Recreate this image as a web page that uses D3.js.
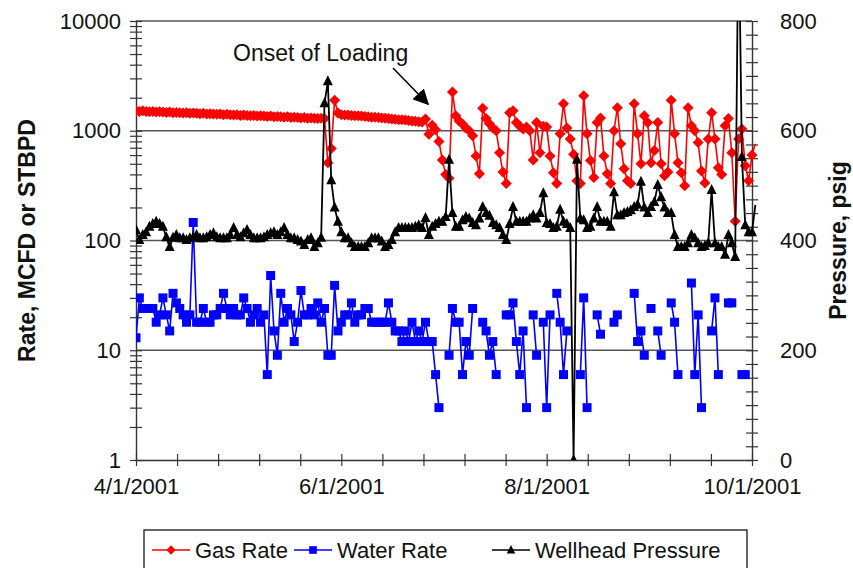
<!DOCTYPE html>
<html>
<head>
<meta charset="utf-8">
<script src="https://cdn.jsdelivr.net/npm/d3@7/dist/d3.min.js"></script>
<style>
  body { margin: 0; background: #fff; }
  text { font-family: "Liberation Sans", Arial, sans-serif; fill: #111; }
</style>
</head>
<body>
<svg id="chart" width="853" height="568"></svg>
<script>
// Daily well data, one entry per day starting 4/1/2001
const startDate = "2001-04-01";
const endDate = "2001-10-01";

// Gas rate, MCFD
const gasRate = [
  1510,1500,1520,1500,1490,1500,1480,1490,1480,1470,
  1480,1460,1470,1460,1450,1460,1440,1450,1440,1430,
  1440,1420,1430,1420,1410,1420,1400,1410,1400,1390,
  1400,1380,1390,1380,1370,1380,1360,1370,1360,1350,
  1360,1340,1350,1340,1330,1340,1320,1330,1320,1310,
  1320,1300,1310,1300,1290,1300,1290,510,690,1900,
  1450,1400,1390,1390,1380,1370,1370,1360,1350,1340,
  1330,1330,1320,1310,1300,1290,1280,1270,1260,1260,
  1250,1240,1230,1220,1210,1200,1280,930,1120,1020,
  800,540,400,370,2250,1370,1230,1150,1060,1000,
  900,590,405,1600,1290,1160,1060,1000,630,420,
  330,1460,1520,1190,1100,1040,1080,1000,540,1190,
  630,1100,1080,590,415,330,940,1760,1060,840,
  610,350,330,2080,940,535,375,1190,1310,590,
  405,330,1000,1620,760,450,350,330,1760,940,
  500,1370,1190,510,660,1190,500,390,420,1900,
  940,510,415,315,1620,1110,1000,780,430,335,
  840,1460,840,460,400,1110,1290,630,150,840,
  1040,480,350,600,760
];

// Water rate, STBPD (null = no reading that day)
const waterRate = [
  13,30,24,24,24,24,18,21,30,21,
  15,33,27,24,21,18,21,146,18,18,
  24,18,18,21,21,24,33,24,21,24,
  21,21,30,24,18,21,24,18,21,6,
  48,15,9,33,18,24,21,12,18,35,
  21,21,24,21,27,18,24,9,9,39,
  15,18,21,21,27,18,21,21,24,24,
  18,18,18,18,18,27,18,15,15,12,
  15,12,18,12,15,12,18,12,12,6,
  3,null,null,9,24,18,18,6,12,9,
  24,null,null,18,15,9,12,6,null,null,
  21,21,27,12,6,15,3,null,21,9,
  null,18,3,21,null,33,18,6,15,null,
  null,null,6,30,3,null,null,21,14,null,
  null,null,18,21,null,null,null,null,33,12,
  15,9,null,24,null,15,9,null,null,27,
  18,6,null,null,null,41,6,21,3,null,
  null,15,30,6,null,null,27,27,null,null,
  6,6,null,null,null
];

// Wellhead pressure, psig
const wellheadPressure = [
  419,401,410,415,425,430,434,430,425,406,
  388,405,410,404,404,401,404,406,410,404,
  404,406,410,413,406,404,404,404,410,423,
  410,406,413,419,410,404,404,404,406,410,
  413,415,410,415,423,410,404,404,401,398,
  392,401,404,388,395,405,650,690,510,460,
  434,415,404,404,395,388,388,388,388,395,
  404,404,404,398,388,392,401,415,423,423,
  423,423,423,425,428,423,441,410,425,430,
  434,434,443,547,450,425,425,437,443,440,
  432,428,440,461,450,445,432,428,423,410,
  401,430,461,434,434,434,434,440,446,440,
  450,486,432,430,423,425,456,434,430,423,
  0,547,440,437,423,425,440,461,434,434,
  434,425,488,446,446,450,452,455,461,465,
  507,460,450,461,470,501,479,460,450,450,
  410,388,388,388,395,410,404,395,388,390,
  395,492,395,388,388,374,410,395,370,1000,
  552,428,415,415,465
];

// Axis ticks and labels
const dateTickLabels = ["2001-04-01", "2001-06-01", "2001-08-01", "2001-10-01"];
const rateTicks = [1, 10, 100, 1000, 10000];
const pressureTicks = [0, 200, 400, 600, 800];

const seriesNames = ["Gas Rate", "Water Rate", "Wellhead Pressure"];
const seriesColors = ["#ff0000", "#0000ff", "#000000"];

const svg = d3.select("#chart");
const margin = { left: 136, right: 752, top: 21, bottom: 460 };

const parse = d3.utcParse("%Y-%m-%d");
const t0 = parse(startDate);
const t1 = parse(endDate);
const day = i => d3.utcDay.offset(t0, i);

const x = d3.scaleUtc().domain([t0, t1]).range([margin.left, margin.right]);
const yRate = d3.scaleLog().domain([1, 10000]).range([margin.bottom, margin.top]);
const yPres = d3.scaleLinear().domain([0, 800]).range([margin.bottom, margin.top]);

// Horizontal gridlines at each decade
svg.append("g").selectAll("line")
  .data(rateTicks.slice(1))
  .join("line")
  .attr("x1", margin.left).attr("x2", margin.right)
  .attr("y1", d => yRate(d)).attr("y2", d => yRate(d))
  .attr("stroke", "#555").attr("stroke-width", 1.3);

// Axes with ticks crossing the axis line
const tickLen = 6;
const logTicks = [];
rateTicks.forEach((d, i) => {
  logTicks.push(d);
  if (i < rateTicks.length - 1) for (let k = 2; k <= 9; k++) logTicks.push(d * k);
});

const leftAxis = svg.append("g")
  .attr("transform", `translate(${margin.left},0)`)
  .call(d3.axisLeft(yRate).tickValues(logTicks).tickSize(tickLen).tickSizeOuter(0).tickPadding(9)
    .tickFormat(d => rateTicks.includes(d) ? d3.format("d")(d) : ""));
leftAxis.selectAll(".tick line").attr("x1", tickLen);

const pressureMinor = d3.range(0, 801, 25);
const rightAxis = svg.append("g")
  .attr("transform", `translate(${margin.right},0)`)
  .call(d3.axisRight(yPres).tickValues(pressureMinor).tickSize(tickLen).tickSizeOuter(0).tickPadding(22)
    .tickFormat(d => pressureTicks.includes(d) ? d : ""));
rightAxis.selectAll(".tick line").attr("x1", -tickLen);

const labelDates = dateTickLabels.map(parse);
const dateTicks = d3.range(16).map(k => new Date(+t0 + k * 12.2 * 864e5));
const bottomAxis = svg.append("g")
  .attr("transform", `translate(0,${margin.bottom})`)
  .call(d3.axisBottom(x).tickValues(dateTicks).tickSize(tickLen).tickSizeOuter(0).tickPadding(12)
    .tickFormat((d, i) => i % 5 === 0 ? d3.utcFormat("%-m/%-d/%Y")(labelDates[i / 5]) : ""));
bottomAxis.selectAll(".tick line").attr("y1", -tickLen);

[leftAxis, rightAxis, bottomAxis].forEach(g => {
  g.selectAll("path.domain").attr("stroke", "#333").attr("stroke-width", 1.4);
  g.selectAll(".tick line").attr("stroke", "#333").attr("stroke-width", 1.2);
  g.selectAll("text").attr("font-size", 22).attr("fill", "#111")
    .attr("font-family", "'Liberation Sans', Arial, sans-serif");
});

// Axis titles
svg.append("text")
  .attr("transform", `translate(35,${(margin.top + margin.bottom) / 2}) rotate(-90)`)
  .attr("text-anchor", "middle").attr("font-size", 23).attr("font-weight", "bold")
  .text("Rate, MCFD or STBPD");
svg.append("text")
  .attr("transform", `translate(846,${(margin.top + margin.bottom) / 2}) rotate(-90)`)
  .attr("text-anchor", "middle").attr("font-size", 23).attr("font-weight", "bold")
  .text("Pressure, psig");

// Plot clip (the last readings run a few pixels past the 10/1 axis)
svg.append("clipPath").attr("id", "plot-clip")
  .append("rect").attr("x", margin.left).attr("y", margin.top)
  .attr("width", margin.right - margin.left + 6).attr("height", margin.bottom - margin.top);

const plot = svg.append("g").attr("clip-path", "url(#plot-clip)");

const shapes = {
  diamond: "M0,-5.5L5.5,0L0,5.5L-5.5,0Z",
  square: "M-4.5,-4.5H4.5V4.5H-4.5Z",
  triangle: "M0,-6L5,4H-5Z"
};

function drawSeries(values, yScale, color, shape, width) {
  const pts = values.map((v, i) => ({ t: day(i), v }));
  const line = d3.line()
    .defined(d => d.v !== null)
    .x(d => x(d.t))
    .y(d => yScale(d.v));
  const g = plot.append("g");
  g.append("path").datum(pts)
    .attr("d", line).attr("fill", "none")
    .attr("stroke", color).attr("stroke-width", width).attr("stroke-linejoin", "round");
  g.selectAll("path.mark")
    .data(pts.filter(d => d.v !== null && d.t <= t1))
    .join("path").attr("class", "mark")
    .attr("d", shapes[shape])
    .attr("transform", d => `translate(${x(d.t)},${yScale(d.v)})`)
    .attr("fill", color);
}

drawSeries(gasRate, yRate, seriesColors[0], "diamond", 1.6);
drawSeries(waterRate, yRate, seriesColors[1], "square", 1.6);
drawSeries(wellheadPressure, yPres, seriesColors[2], "triangle", 1.8);

// Annotation
svg.append("text").attr("x", 233).attr("y", 61).attr("font-size", 23).text("Onset of Loading");
svg.append("defs").append("marker")
  .attr("id", "arrow").attr("viewBox", "0 0 10 10").attr("refX", 9).attr("refY", 5)
  .attr("markerWidth", 10.5).attr("markerHeight", 10.5).attr("orient", "auto")
  .append("path").attr("d", "M0,0L10,5L0,10Z").attr("fill", "#000");
svg.append("line")
  .attr("x1", 393).attr("y1", 68).attr("x2", 428).attr("y2", 104)
  .attr("stroke", "#000").attr("stroke-width", 1.5).attr("marker-end", "url(#arrow)");

// Legend
const legend = svg.append("g");
legend.append("rect").attr("x", 144).attr("y", 530).attr("width", 603).attr("height", 40)
  .attr("fill", "#fff").attr("stroke", "#000").attr("stroke-width", 1.2);
const legendX = [152, 294, 492];
const legendShapes = ["diamond", "square", "triangle"];
seriesNames.forEach((name, i) => {
  const g = legend.append("g").attr("transform", `translate(${legendX[i]},550)`);
  g.append("line").attr("x1", 0).attr("x2", 38).attr("stroke", seriesColors[i]).attr("stroke-width", 1.4);
  g.append("path").attr("d", shapes[legendShapes[i]]).attr("transform", "translate(19,0) scale(0.85)").attr("fill", seriesColors[i]);
  g.append("text").attr("x", 43).attr("y", 8).attr("font-size", 22).text(name);
});
</script>
</body>
</html>
